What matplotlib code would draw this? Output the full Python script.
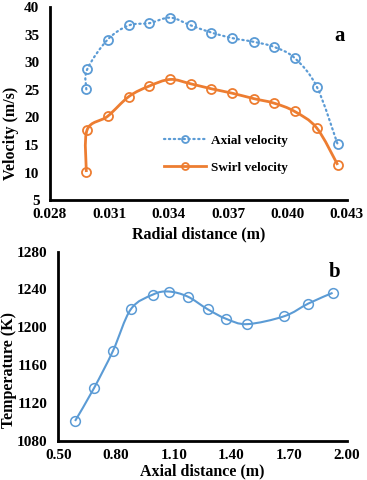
import numpy as np
import matplotlib
matplotlib.use("Agg")
import matplotlib.pyplot as plt
from matplotlib.path import Path
from matplotlib.patches import PathPatch
from matplotlib.lines import Line2D

plt.rcParams['font.family'] = ['Liberation Serif', 'DejaVu Serif']
plt.rcParams['font.weight'] = 'bold'

# panel a: velocity profiles
radial = [0.02984, 0.02988, 0.03091, 0.03199, 0.03302, 0.03408, 0.03512,
          0.03616, 0.03721, 0.03832, 0.03932, 0.04036, 0.04148, 0.04254]
axial_vel = [25.1, 28.7, 34.1, 36.7, 37.1, 38.1, 36.7,
             35.4, 34.4, 33.7, 32.8, 30.8, 25.6, 15.1]
swirl_vel = [10.1, 17.75, 20.2, 23.8, 25.7, 26.9, 26.1,
             25.2, 24.4, 23.4, 22.6, 21.1, 18.1, 11.4]

# panel b: temperature along the axis
axial_dist = [0.587, 0.685, 0.784, 0.877, 0.992, 1.074, 1.172,
              1.276, 1.373, 1.482, 1.675, 1.800, 1.926]
temperature = [1100.8, 1135.4, 1174.9, 1219.0, 1234.5, 1237.7, 1232.4,
               1219.0, 1208.8, 1203.2, 1211.6, 1225.0, 1236.3]

BLUE = '#5B9BD5'
ORANGE = '#ED7D31'
DOTS = (0, (0.6, 1.6))
TICK_FS = 11


def smooth_path(x, y):
    # bezier path through the points, like a spreadsheet "smoothed line"
    p = np.column_stack([x, y]).astype(float)
    n = len(p)
    verts = [p[0]]
    codes = [Path.MOVETO]
    for i in range(n - 1):
        p0 = p[i - 1] if i > 0 else p[i]
        p3 = p[i + 2] if i + 2 < n else p[i + 1]
        c1 = p[i] + (p[i + 1] - p0) / 6.0
        c2 = p[i + 1] - (p3 - p[i]) / 6.0
        verts += [c1, c2, p[i + 1]]
        codes += [Path.CURVE4] * 3
    return Path(verts, codes)


def style_axes(ax, xpad, ypad):
    for s in ['top', 'right']:
        ax.spines[s].set_visible(False)
    for s in ['left', 'bottom']:
        ax.spines[s].set_linewidth(2.0)
        ax.spines[s].set_color('black')
    ax.tick_params(length=0)
    ax.tick_params(axis='x', pad=xpad)
    ax.tick_params(axis='y', pad=ypad)


fig = plt.figure(figsize=(3.67, 4.8), dpi=100)

# ---- panel a
ax1 = fig.add_axes([0.136, 0.583, 0.809, 0.402])
ax1.add_patch(PathPatch(smooth_path(radial, axial_vel), fill=False,
                        edgecolor=BLUE, lw=1.6, linestyle=DOTS,
                        capstyle='round'))
ax1.plot(radial, axial_vel, 'o', ms=6.5, mfc='none', mec=BLUE, mew=1.3)
ax1.add_patch(PathPatch(smooth_path(radial, swirl_vel), fill=False,
                        edgecolor=ORANGE, lw=2.0))
ax1.plot(radial, swirl_vel, 'o', ms=6.5, mfc='none', mec=ORANGE, mew=1.3)
ax1.set_xlim(0.028, 0.043)
ax1.set_ylim(5, 40)
xt1 = np.arange(0.028, 0.0431, 0.003)
yt1 = list(range(5, 41, 5))
ax1.set_xticks(xt1)
ax1.set_xticklabels(['%.3f' % v for v in xt1], fontsize=TICK_FS, fontweight='bold')
ax1.set_yticks(yt1)
ax1.set_yticklabels([str(v) for v in yt1], fontsize=TICK_FS, fontweight='bold')
ax1.set_xlabel('Radial distance (m)', fontsize=11.5, fontweight='bold')
ax1.set_ylabel('Velocity (m/s)', fontsize=11.5, fontweight='bold', va='center')
ax1.xaxis.set_label_coords(0.5, -0.135)
ax1.yaxis.set_label_coords(-0.131, 0.347)
style_axes(ax1, 5.5, 7.5)
ax1.text(0.993, 0.85, 'a', transform=ax1.transAxes, fontsize=15,
         fontweight='bold', ha='right', va='center')

h1 = Line2D([], [], color=BLUE, lw=1.6, linestyle=DOTS,
            dash_capstyle='round', marker='o', ms=5, mfc='none',
            mec=BLUE, mew=1.3)
h2 = Line2D([], [], color=ORANGE, lw=2.0, marker='o', ms=5, mfc='none',
            mec=ORANGE, mew=1.3)
ax1.legend([h1, h2], ['Axial velocity', 'Swirl velocity'], loc='center left',
           bbox_to_anchor=(0.385, 0.238), frameon=False, handlelength=3.2,
           handletextpad=0.35, borderpad=0, borderaxespad=0,
           labelspacing=1.1, prop={'size': 9.5, 'weight': 'bold'})

# ---- panel b
ax2 = fig.add_axes([0.159, 0.082, 0.786, 0.394])
ax2.add_patch(PathPatch(smooth_path(axial_dist, temperature), fill=False,
                        edgecolor=BLUE, lw=1.5))
ax2.plot(axial_dist, temperature, 'o', ms=7, mfc='none', mec=BLUE, mew=1.1)
ax2.set_xlim(0.5, 2.0)
ax2.set_ylim(1080, 1280)
xt2 = np.arange(0.5, 2.01, 0.3)
yt2 = list(range(1080, 1281, 40))
ax2.set_xticks(xt2)
ax2.set_xticklabels(['%.2f' % v for v in xt2], fontsize=TICK_FS, fontweight='bold')
ax2.set_yticks(yt2)
ax2.set_yticklabels([str(v) for v in yt2], fontsize=TICK_FS, fontweight='bold')
ax2.set_xlabel('Axial distance (m)', fontsize=11.5, fontweight='bold')
ax2.set_ylabel('Temperature (K)', fontsize=11.5, fontweight='bold', va='center')
ax2.xaxis.set_label_coords(0.5, -0.118)
ax2.yaxis.set_label_coords(-0.172, 0.374)
style_axes(ax2, 6, 8.0)
ax2.text(0.956, 0.893, 'b', transform=ax2.transAxes, fontsize=15,
         fontweight='bold', ha='center', va='center')

fig.savefig('out.png', dpi=100)
